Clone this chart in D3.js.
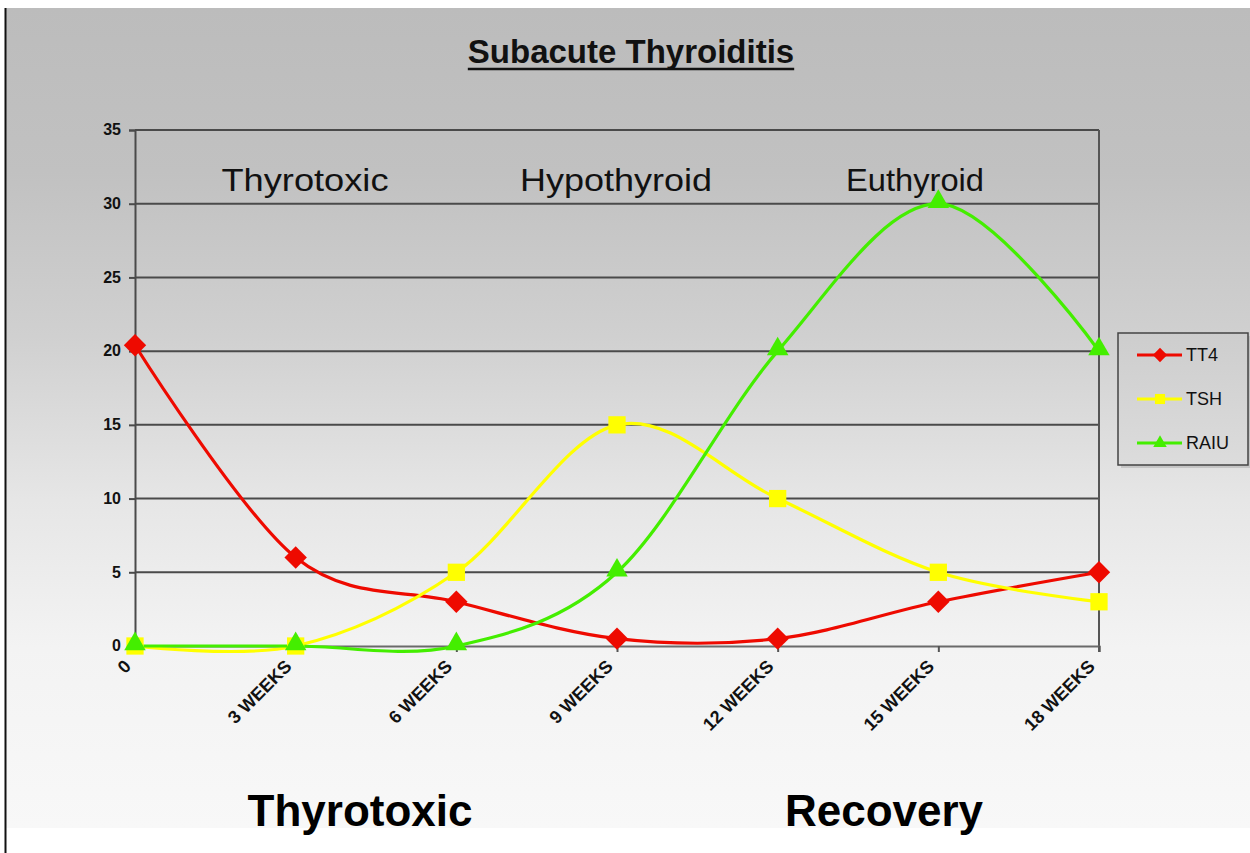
<!DOCTYPE html>
<html>
<head>
<meta charset="utf-8">
<script src="https://cdn.jsdelivr.net/npm/d3@7"></script>
<style>
  html, body { margin: 0; padding: 0; background: #ffffff; }
  svg { display: block; }
</style>
</head>
<body>
<svg id="chart" width="1250" height="853"></svg>
<script>
// ---- data ----
const categories = ["0", "3 WEEKS", "6 WEEKS", "9 WEEKS", "12 WEEKS", "15 WEEKS", "18 WEEKS"];
const tt4  = [20.4, 6, 3, 0.5, 0.5, 3, 5];
const tsh  = [0, 0, 5, 15, 10, 5, 3];
const raiu = [0, 0, 0, 5, 20, 30, 20];
const seriesNames = ["TT4", "TSH", "RAIU"];
const yTicks = [0, 5, 10, 15, 20, 25, 30, 35];
const phaseLabels = ["Thyrotoxic", "Hypothyroid", "Euthyroid"];
const bottomLabels = ["Thyrotoxic", "Recovery"];
const title = "Subacute Thyroiditis";

const colors = { TT4: "#ee0a00", TSH: "#ffff00", RAIU: "#44ee00" };
const shapes = { TT4: d3.symbolDiamond2, TSH: d3.symbolSquare2, RAIU: d3.symbolTriangle2 };
const seriesData = { TT4: tt4, TSH: tsh, RAIU: raiu };

const svg = d3.select("#chart");
const W = 1250, H = 853;
const plot = { left: 135, right: 1099, top: 130, bottom: 646 };

// ---- background ----
const defs = svg.append("defs");
const bg = defs.append("linearGradient").attr("id", "bg").attr("x1", 0).attr("y1", 0).attr("x2", 0).attr("y2", 1);
[[0, "#bcbcbc"], [0.2, "#c1c1c1"], [0.4, "#d0d0d0"], [0.6, "#e6e6e6"], [0.78, "#f3f3f3"], [1, "#f8f8f8"]]
  .forEach(([o, c]) => bg.append("stop").attr("offset", o).attr("stop-color", c));
const lg = defs.append("linearGradient").attr("id", "lg").attr("x1", 0).attr("y1", 0).attr("x2", 0).attr("y2", 1);
[[0, "#cdcdcd"], [1, "#dcdcdc"]].forEach(([o, c]) => lg.append("stop").attr("offset", o).attr("stop-color", c));

svg.append("rect").attr("x", 0).attr("y", 0).attr("width", W).attr("height", H).attr("fill", "#ffffff");
svg.append("rect").attr("x", 6).attr("y", 8).attr("width", W - 6).attr("height", 820).attr("fill", "url(#bg)");
svg.append("line").attr("x1", 5.5).attr("x2", 5.5).attr("y1", 8).attr("y2", H)
  .attr("stroke", "#111").attr("stroke-width", 2);

// ---- scales ----
const x = d3.scalePoint().domain(categories).range([plot.left, plot.right]).padding(0);
const y = d3.scaleLinear().domain([0, 35]).range([plot.bottom, plot.top]);

// ---- gridlines ----
svg.append("g").selectAll("line").data(yTicks.filter(t => t > 0)).join("line")
  .attr("x1", plot.left).attr("x2", plot.right)
  .attr("y1", d => y(d)).attr("y2", d => y(d))
  .attr("stroke", "#4a4a4a").attr("stroke-width", 2);

// right border of plot
svg.append("line").attr("x1", plot.right).attr("x2", plot.right).attr("y1", plot.top).attr("y2", plot.bottom + 6)
  .attr("stroke", "#555").attr("stroke-width", 2);

// ---- y axis ----
const yAxis = d3.axisLeft(y).tickValues(yTicks).tickSize(6).tickPadding(8);
const gy = svg.append("g").attr("transform", `translate(${plot.left},0)`).call(yAxis);
gy.select(".domain").attr("stroke", "#4a4a4a").attr("stroke-width", 2);
gy.selectAll(".tick line").attr("stroke", "#4a4a4a").attr("stroke-width", 2);
gy.selectAll(".tick text").attr("font-family", "Liberation Sans, Arial, sans-serif")
  .attr("font-size", 16).attr("font-weight", "bold").attr("fill", "#111").attr("dy", "0.3em");

// ---- x axis ----
const xAxis = d3.axisBottom(x).tickSize(6);
const gx = svg.append("g").attr("transform", `translate(0,${plot.bottom})`).call(xAxis);
gx.select(".domain").attr("stroke", "#6a6a6a").attr("stroke-width", 2);
gx.selectAll(".tick line").attr("stroke", "#555").attr("stroke-width", 2);
gx.selectAll(".tick text")
  .attr("font-family", "Liberation Sans, Arial, sans-serif")
  .attr("font-size", 18).attr("font-weight", "bold").attr("fill", "#111")
  .attr("text-anchor", "end")
  .attr("x", 0).attr("y", 0).attr("dy", "0.35em")
  .attr("transform", "translate(-8,17) rotate(-45)");

// ---- phase labels ----
const phaseX = [305, 616, 915];
const phaseW = [167, 192, 138];
svg.append("g").selectAll("text").data(phaseLabels).join("text")
  .attr("x", (d, i) => phaseX[i]).attr("y", 191)
  .attr("text-anchor", "middle")
  .attr("font-family", "Liberation Sans Narrow, Liberation Sans, Arial, sans-serif")
  .attr("font-size", 32).attr("fill", "#111")
  .attr("textLength", (d, i) => phaseW[i]).attr("lengthAdjust", "spacingAndGlyphs")
  .text(d => d);

// ---- lines ----
const line = d3.line().x((d, i) => x(categories[i])).y(d => y(d)).curve(d3.curveCardinal.tension(0));
const gLines = svg.append("g");
seriesNames.forEach(name => {
  gLines.append("path").datum(seriesData[name])
    .attr("fill", "none").attr("stroke", colors[name]).attr("stroke-width", 3.2)
    .attr("stroke-linejoin", "round").attr("d", line);
});
const markerSize = { TT4: 320, TSH: 380, RAIU: 330 };
seriesNames.forEach(name => {
  svg.append("g").selectAll("path").data(seriesData[name]).join("path")
    .attr("transform", (d, i) => `translate(${x(categories[i])},${y(d) + (name === "RAIU" ? -2 : 0)})`)
    .attr("d", d3.symbol().type(shapes[name]).size(markerSize[name]))
    .attr("fill", colors[name]);
});

// ---- title ----
const tt = svg.append("text").attr("x", 631).attr("y", 63).attr("text-anchor", "middle")
  .attr("font-family", "Liberation Sans, Arial, sans-serif").attr("font-size", 33)
  .attr("font-weight", "bold").attr("fill", "#111").text(title);
const tb = tt.node().getBBox();
svg.append("line").attr("x1", tb.x).attr("x2", tb.x + tb.width).attr("y1", 69).attr("y2", 69)
  .attr("stroke", "#111").attr("stroke-width", 2.5);

// ---- legend ----
const leg = svg.append("g");
leg.append("rect").attr("x", 1121).attr("y", 336).attr("width", 130).attr("height", 132).attr("fill", "#aaa").attr("opacity", 0.5);
leg.append("rect").attr("x", 1118).attr("y", 333).attr("width", 130).attr("height", 132)
  .attr("fill", "url(#lg)").attr("stroke", "#444").attr("stroke-width", 1.5);
const legY = d3.scalePoint().domain(seriesNames).range([355, 443]);
seriesNames.forEach(name => {
  const yy = legY(name);
  leg.append("line").attr("x1", 1137).attr("x2", 1182).attr("y1", yy).attr("y2", yy)
    .attr("stroke", colors[name]).attr("stroke-width", 3);
  leg.append("path").attr("transform", `translate(1160,${yy})`)
    .attr("d", d3.symbol().type(shapes[name]).size(130)).attr("fill", colors[name]);
  leg.append("text").attr("x", 1186).attr("y", yy).attr("dy", "0.36em")
    .attr("font-family", "Liberation Sans, Arial, sans-serif").attr("font-size", 18)
    .attr("fill", "#111").text(name);
});

// ---- bottom phase labels ----
const bottomX = [360, 884];
svg.append("g").selectAll("text").data(bottomLabels).join("text")
  .attr("x", (d, i) => bottomX[i]).attr("y", 826).attr("text-anchor", "middle")
  .attr("font-family", "Liberation Sans, Arial, sans-serif").attr("font-size", 44)
  .attr("font-weight", "bold").attr("fill", "#000").text(d => d);
</script>
</body>
</html>
